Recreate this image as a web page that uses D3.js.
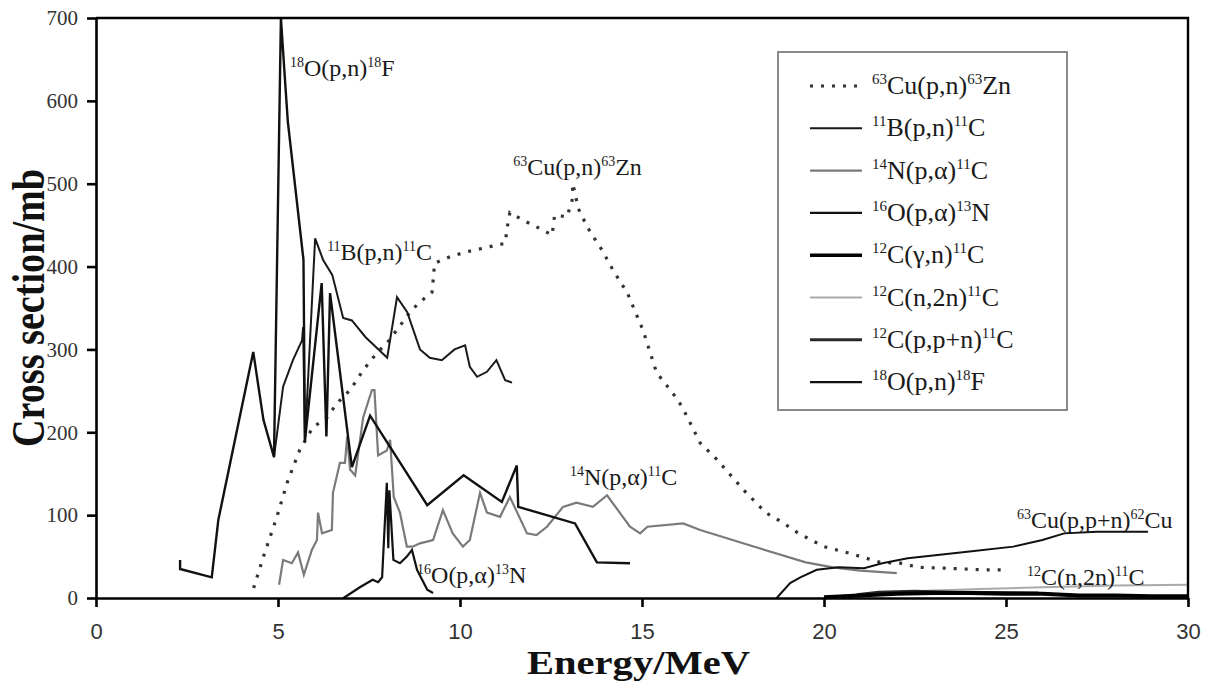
<!DOCTYPE html>
<html>
<head>
<meta charset="utf-8">
<script src="https://cdn.jsdelivr.net/npm/d3@7"></script>
<style>
    body { margin: 0; background: #fff; }
    svg text { font-family: "Liberation Serif", "Times New Roman", serif; }
    .xaxis text { font-family: "Liberation Sans", Arial, sans-serif; }
</style>
</head>
<body>
<svg id="chart" width="1208" height="682"></svg>
<script>
// tick values
const energyTicks = [0, 5, 10, 15, 20, 25, 30];
const sigmaTicks = [0, 100, 200, 300, 400, 500, 600, 700];

// [energy MeV, cross section mb]
const cuPnZn = [[4.33, 12], [4.6, 50], [4.97, 98], [5.25, 139], [5.6, 179], [5.96, 206], [6.35, 218],
    [6.62, 235], [6.98, 251], [7.34, 275], [7.72, 296], [8.0, 308], [8.68, 348], [8.98, 360], [9.23, 369],
    [9.27, 387], [9.3, 404], [9.73, 412], [10.2, 418], [10.82, 424], [11.24, 428], [11.3, 448], [11.37, 465],
    [11.73, 456], [12.1, 448], [12.53, 438], [12.6, 462], [12.94, 460], [13.08, 480], [13.1, 500], [13.25, 470],
    [13.45, 452], [13.6, 440], [13.9, 420], [14.2, 396], [14.6, 368], [15.03, 323], [15.4, 272], [15.85, 247],
    [16.1, 231], [16.6, 187], [17.06, 167], [17.8, 130], [18.4, 103], [18.9, 90], [19.3, 78], [20.0, 62],
    [20.7, 54], [21.55, 43], [22.1, 42], [22.6, 37], [23.3, 36], [24.4, 34], [24.9, 34]];

const bPnC = [[4.89, 170], [5.14, 255], [5.41, 287], [5.66, 311], [5.69, 327], [5.74, 188], [6.02, 434],
    [6.24, 408], [6.49, 390], [6.79, 338], [7.03, 335], [7.4, 315], [8.0, 290], [8.27, 363], [8.55, 345],
    [8.9, 300], [9.17, 290], [9.5, 287], [9.85, 300], [10.14, 305], [10.27, 279], [10.47, 267], [10.74, 273],
    [11.0, 287], [11.24, 263], [11.43, 260]];

const nPaC = [[5.03, 16], [5.14, 46], [5.38, 42], [5.55, 55], [5.71, 28], [5.93, 58], [6.07, 70], [6.1, 103],
    [6.21, 78], [6.48, 82], [6.51, 127], [6.7, 163], [6.84, 163], [6.9, 195], [6.98, 155], [7.12, 148],
    [7.34, 218], [7.58, 251], [7.65, 251], [7.75, 172], [7.99, 178], [8.08, 191], [8.18, 122], [8.35, 103],
    [8.54, 62], [8.7, 62], [8.9, 66], [9.26, 70], [9.53, 106], [9.8, 78], [10.08, 62], [10.27, 70],
    [10.55, 127], [10.74, 103], [11.1, 98], [11.37, 122], [11.84, 78], [12.1, 76], [12.39, 86], [12.83, 110],
    [13.2, 115], [13.65, 110], [14.04, 124], [14.67, 86], [14.95, 78], [15.15, 86], [16.13, 90], [16.6, 82],
    [18.0, 63], [19.5, 43], [20.25, 37], [21.0, 33], [22.0, 30]];

const oPaN = [[6.8, 0], [7.25, 13], [7.6, 22], [7.75, 19], [7.86, 25], [7.99, 139], [8.03, 60], [8.06, 130],
    [8.17, 46], [8.35, 42], [8.54, 50], [8.68, 58], [8.82, 34], [8.96, 22], [9.1, 10], [9.26, 6]];

const cGnC = [[20.0, 1], [21, 3], [22, 5], [23, 6], [24, 6], [25, 5], [26, 5], [27, 3], [28, 3], [29, 2], [30, 2]];

const cN2nC = [[20.5, 3], [21.5, 6], [23, 9], [24.3, 11], [26, 13], [28, 15], [30, 16]];

const cPpnC = [[20.9, 4], [21.5, 7], [22.5, 8], [23.5, 7], [25.9, 6]];

const oPnF = [[2.31, 46], [2.31, 35], [3.18, 25], [3.36, 94], [4.32, 297], [4.6, 215], [4.89, 170],
    [5.08, 700], [5.2, 620], [5.27, 575], [5.7, 408], [5.74, 190], [6.2, 380], [6.33, 195], [6.43, 368],
    [7.03, 158], [7.53, 220], [9.1, 112], [10.1, 148], [11.15, 116], [11.56, 160], [11.6, 110], [13.16, 90],
    [13.76, 43], [14.67, 42]];

const cuPpnCu = [[18.7, 0], [19.07, 18], [19.35, 25], [19.8, 34], [20.4, 37], [21.1, 36], [21.6, 42],
    [22.3, 48], [24.0, 56], [25.2, 62], [26.0, 70], [26.6, 78], [27.5, 80], [28.9, 80]];

// legend names, in order
const legendNames = ['{63}Cu(p,n){63}Zn', '{11}B(p,n){11}C', '{14}N(p,α){11}C', '{16}O(p,α){13}N',
    '{12}C(γ,n){11}C', '{12}C(n,2n){11}C', '{12}C(p,p+n){11}C', '{18}O(p,n){18}F'];

// labels written next to the curves: [text, energy, cross section]
const curveLabels = [
    ['{18}O(p,n){18}F', 5.33, 630],
    ['{11}B(p,n){11}C', 6.35, 408],
    ['{63}Cu(p,n){63}Zn', 11.46, 510],
    ['{14}N(p,α){11}C', 13.02, 136],
    ['{16}O(p,α){13}N', 8.82, 18],
    ['{63}Cu(p,p+n){62}Cu', 25.3, 84],
    ['{12}C(n,2n){11}C', 25.58, 16]
];

// styles for each curve, drawn in this order
const series = [
    { data: nPaC, color: '#7a7a7a', width: 2.2 },
    { data: cN2nC, color: '#aaaaaa', width: 2 },
    { data: cPpnC, color: '#2a2a2a', width: 3 },
    { data: cuPnZn, color: '#333', width: 3.2, dash: '3,8' },
    { data: bPnC, color: '#1a1a1a', width: 2 },
    { data: oPaN, color: '#111', width: 2.2 },
    { data: oPnF, color: '#111', width: 2.4 },
    { data: cuPpnCu, color: '#111', width: 2 },
    { data: cGnC, color: '#000', width: 4 }
];
const legendStyles = [series[3], series[4], series[0], series[5], series[8], series[1], series[2], series[6]];

const svg = d3.select('#chart');
const x = d3.scaleLinear().domain([0, 30]).range([96, 1188]);
const y = d3.scaleLinear().domain([0, 700]).range([598, 18]);

// write a label with {..} parts as superscripts
function richText (sel, label, size, supSize) {
    const parts = label.match(/\{[^}]*\}|[^{]+/g);
    let raised = false;
    parts.forEach((p) => {
        const sup = p[0] === '{';
        const t = sel.append('tspan').text(sup ? p.slice(1, -1) : p)
            .attr('font-size', sup ? supSize : size);
        if (sup && !raised) { t.attr('dy', -size * 0.38); raised = true; }
        if (!sup && raised) { t.attr('dy', size * 0.38); raised = false; }
    });
}

// curves
const line = d3.line().x((d) => x(d[0])).y((d) => y(d[1]));
svg.append('g').selectAll('path')
    .data(series).enter().append('path')
    .attr('d', (d) => line(d.data))
    .attr('fill', 'none')
    .attr('stroke', (d) => d.color)
    .attr('stroke-width', (d) => d.width)
    .attr('stroke-dasharray', (d) => d.dash || null)
    .attr('stroke-linejoin', 'miter');

// axes
const xAxis = svg.append('g').attr('class', 'xaxis')
    .attr('transform', 'translate(0,598)')
    .call(d3.axisBottom(x).tickValues(energyTicks).tickSize(9).tickSizeOuter(0).tickPadding(16));
const yAxis = svg.append('g').attr('class', 'yaxis')
    .attr('transform', 'translate(96,0)')
    .call(d3.axisLeft(y).tickValues(sigmaTicks).tickSize(9).tickSizeOuter(0).tickPadding(9));
[xAxis, yAxis].forEach((a) => {
    a.select('.domain').attr('stroke', '#000').attr('stroke-width', 2.6);
    a.selectAll('.tick line').attr('stroke', '#000').attr('stroke-width', 2.6);
});
xAxis.selectAll('text').attr('font-size', 22).attr('fill', '#333')
    .style('font-family', '"Liberation Sans", Arial, sans-serif');
yAxis.selectAll('text').attr('font-size', 21).attr('fill', '#333');

// top and right frame
svg.append('path')
    .attr('d', `M${x(0)},${y(700)}H${x(30)}V${y(0)}`)
    .attr('fill', 'none').attr('stroke', '#000').attr('stroke-width', 2.4);

// axis titles
svg.append('text')
    .attr('x', 527).attr('y', 674)
    .attr('font-size', 34).attr('font-weight', 'bold').attr('fill', '#111')
    .attr('textLength', 223).attr('lengthAdjust', 'spacingAndGlyphs')
    .text('Energy/MeV');
svg.append('text')
    .attr('transform', 'translate(44,447) rotate(-90)')
    .attr('font-size', 46).attr('font-weight', 'bold').attr('fill', '#111')
    .attr('textLength', 278).attr('lengthAdjust', 'spacingAndGlyphs')
    .text('Cross section/mb');

// labels on the curves
curveLabels.forEach((d) => {
    const t = svg.append('text')
        .attr('x', x(d[1])).attr('y', y(d[2]))
        .attr('fill', '#1a1a1a');
    richText(t, d[0], 24, 14);
});

// legend
const legend = svg.append('g');
legend.append('rect')
    .attr('x', 778).attr('y', 52).attr('width', 289).attr('height', 358)
    .attr('fill', '#fff').attr('stroke', '#8a8a8a').attr('stroke-width', 2);
legendNames.forEach((name, i) => {
    const cy = 86 + i * 42.3;
    const s = legendStyles[i];
    legend.append('line')
        .attr('x1', 810).attr('x2', 862).attr('y1', cy).attr('y2', cy)
        .attr('stroke', s.color).attr('stroke-width', Math.min(s.width, 3.5))
        .attr('stroke-dasharray', s.dash || null);
    const t = legend.append('text')
        .attr('x', 872).attr('y', cy + 8)
        .attr('fill', '#1a1a1a');
    richText(t, name, 26, 15);
});
</script>
</body>
</html>
